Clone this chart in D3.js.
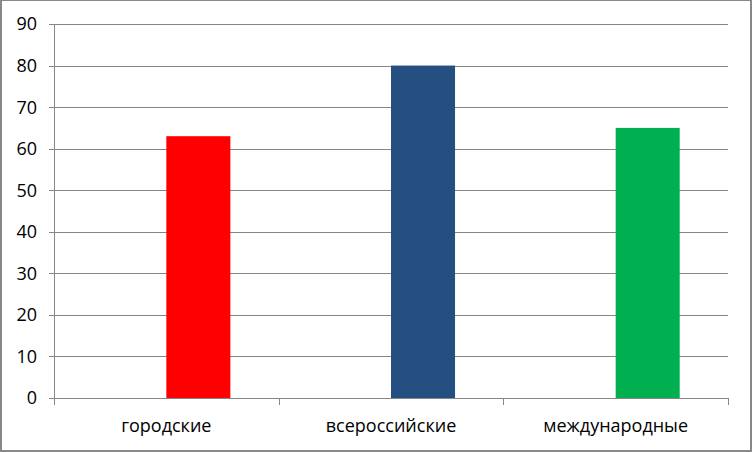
<!DOCTYPE html>
<html>
<head>
<meta charset="utf-8">
<script src="https://cdn.jsdelivr.net/npm/d3@7"></script>
<style>
html,body{margin:0;padding:0;background:#fff;}
svg{display:block;}
</style>
</head>
<body>
<svg id="chart" width="752" height="452"></svg>
<script>
const categories = ["городские", "всероссийские", "международные"];
const values = [63, 80, 65];
const colors = ["#ff0000", "#254f80", "#00b050"];
const yTicks = [0, 10, 20, 30, 40, 50, 60, 70, 80, 90];

(function () {
const svg = d3.select("#chart");
const W = 752, H = 452;
const mLeft = 54, mRight = 728, mTop = 24, mBottom = 398;

// outer border
svg.append("rect").attr("x", 0).attr("y", 0).attr("width", W).attr("height", H).attr("fill", "#888");
svg.append("rect").attr("x", 2).attr("y", 1).attr("width", W - 4).attr("height", H - 3).attr("fill", "#fff");

const x = d3.scaleBand().domain(categories).range([mLeft, mRight]).padding(0);
const y = d3.scaleLinear().domain([0, 90]).range([mBottom, mTop]);

const font = "'Open Sans', 'Noto Sans', sans-serif";

// gridlines
svg.append("g").selectAll("line").data(yTicks).join("line")
  .attr("x1", mLeft - 5).attr("x2", mRight)
  .attr("y1", d => Math.round(y(d)) + 0.5).attr("y2", d => Math.round(y(d)) + 0.5)
  .attr("stroke", "#868686").attr("stroke-width", 1);

// y axis line
svg.append("line").attr("x1", mLeft + 0.5).attr("x2", mLeft + 0.5)
  .attr("y1", mTop).attr("y2", mBottom + 0.5).attr("stroke", "#868686");

// y labels
svg.append("g").selectAll("text").data(yTicks).join("text")
  .attr("x", 37).attr("y", d => y(d)).attr("dy", "0.36em")
  .attr("text-anchor", "end")
  .attr("font-family", font).attr("font-size", 18).attr("fill", "#000")
  .text(d => d);

// x axis ticks (category boundaries)
const bounds = categories.map(c => x(c)).concat([mRight]);
svg.append("g").selectAll("line").data(bounds).join("line")
  .attr("x1", d => Math.round(d) + 0.5).attr("x2", d => Math.round(d) + 0.5)
  .attr("y1", mBottom).attr("y2", mBottom + 7)
  .attr("stroke", "#868686");

// bars: placed in the second half of each category (first series empty)
const barW = x.bandwidth() * 0.285;
svg.append("g").selectAll("rect").data(values).join("rect")
  .attr("x", (d, i) => x(categories[i]) + x.bandwidth() / 2)
  .attr("width", barW)
  .attr("y", d => y(d))
  .attr("height", d => y(0) - y(d))
  .attr("fill", (d, i) => colors[i]);

// x labels
svg.append("g").selectAll("text").data(categories).join("text")
  .attr("x", d => x(d) + x.bandwidth() / 2)
  .attr("y", 432)
  .attr("text-anchor", "middle")
  .attr("font-family", font).attr("font-size", 18).attr("fill", "#000")
  .text(d => d);
})();
</script>
</body>
</html>
